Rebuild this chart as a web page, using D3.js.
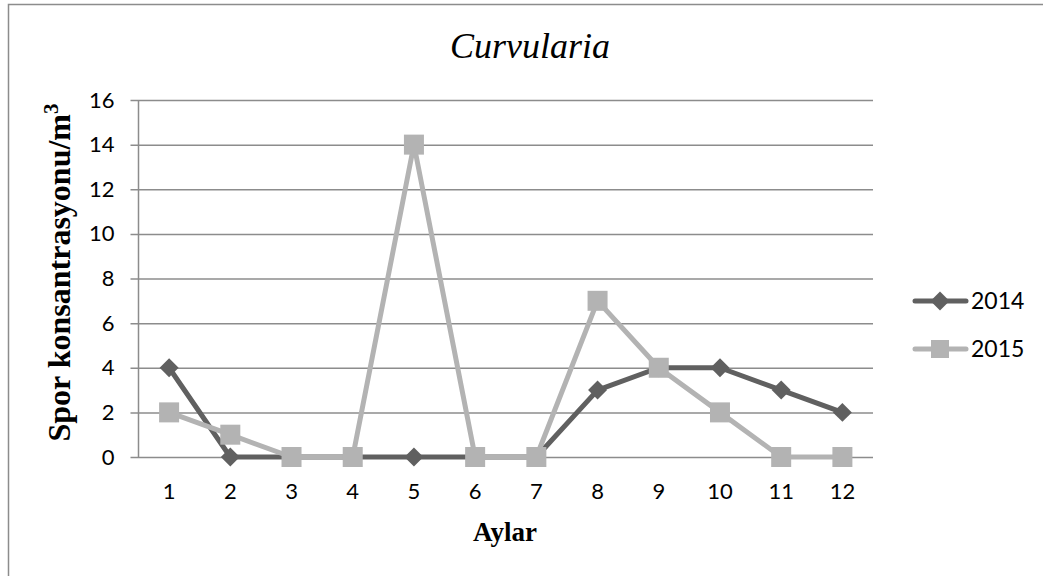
<!DOCTYPE html>
<html>
<head>
<meta charset="utf-8">
<script src="https://cdn.jsdelivr.net/npm/d3@7"></script>
<style>
  html, body { margin: 0; padding: 0; background: #fff; }
  svg { display: block; }
</style>
</head>
<body>
<svg id="chart" width="1043" height="576"></svg>
<script>
// Monthly spore counts of Curvularia
const months = [1, 2, 3, 4, 5, 6, 7, 8, 9, 10, 11, 12];
const values2014 = [4, 0, 0, 0, 0, 0, 0, 3, 4, 4, 3, 2];
const values2015 = [2, 1, 0, 0, 14, 0, 0, 7, 4, 2, 0, 0];
const yTicks = [0, 2, 4, 6, 8, 10, 12, 14, 16];
const seriesNames = ["2014", "2015"];

const svg = d3.select("#chart");
const W = 1043, H = 576;

const tickFont = "Lato, 'Open Sans', sans-serif";
const serif = "'Liberation Serif', 'Times New Roman', serif";
const gridColor = "#8c8c8c";
const colors = { "2014": "#606060", "2015": "#b3b3b3" };

// Chart frame (only left and top edges fall inside the view)
svg.append("rect")
  .attr("x", 8.5).attr("y", 4.5)
  .attr("width", W + 20).attr("height", H + 20)
  .attr("fill", "none").attr("stroke", gridColor).attr("stroke-width", 1.5);

const plot = { left: 138.5, right: 873, top: 100, bottom: 457 };

const x = d3.scaleBand().domain(months).range([plot.left, plot.right]);
const y = d3.scaleLinear().domain([0, 16]).range([plot.bottom, plot.top]);
const cx = m => x(m) + x.bandwidth() / 2;

// Horizontal gridlines with left tick stubs
const yAxis = d3.axisLeft(y).tickValues(yTicks)
  .tickSize(-(plot.right - plot.left)).tickPadding(24).tickFormat(d3.format("d"));
const gy = svg.append("g").attr("transform", `translate(${plot.left},0)`).call(yAxis);
gy.select(".domain").remove();
gy.selectAll(".tick line")
  .attr("x1", -8)
  .attr("stroke", gridColor).attr("stroke-width", 1.5);
gy.selectAll(".tick text")
  .attr("fill", "#000").style("font-family", tickFont).style("font-size", "22px");

// Vertical axis line
svg.append("line")
  .attr("x1", plot.left).attr("x2", plot.left)
  .attr("y1", plot.top).attr("y2", plot.bottom)
  .attr("stroke", gridColor).attr("stroke-width", 1.5);

// Category labels along the bottom
const xAxis = d3.axisBottom(x).tickSize(0).tickPadding(26);
const gx = svg.append("g").attr("transform", `translate(0,${plot.bottom})`).call(xAxis);
gx.select(".domain").remove();
gx.selectAll(".tick text")
  .attr("fill", "#000").style("font-family", tickFont).style("font-size", "22px");

// Series lines and markers
const line = d3.line().x((d, i) => cx(months[i])).y(d => y(d));
const diamond = d3.symbol().type(d3.symbolDiamond2).size(230);

function drawSeries(vals, name) {
  const g = svg.append("g");
  g.append("path").datum(vals)
    .attr("d", line).attr("fill", "none")
    .attr("stroke", colors[name]).attr("stroke-width", 5)
    .attr("stroke-linejoin", "round");
  if (name === "2014") {
    g.selectAll("path.m").data(vals).join("path").attr("class", "m")
      .attr("d", diamond)
      .attr("transform", (d, i) => `translate(${cx(months[i])},${y(d)})`)
      .attr("fill", colors[name]);
  } else {
    const s = 20;
    g.selectAll("rect").data(vals).join("rect")
      .attr("x", (d, i) => cx(months[i]) - s / 2)
      .attr("y", d => y(d) - s / 2)
      .attr("width", s).attr("height", s)
      .attr("fill", colors[name]);
  }
}
drawSeries(values2014, "2014");
drawSeries(values2015, "2015");

// Title
svg.append("text")
  .attr("x", 530).attr("y", 58)
  .attr("text-anchor", "middle")
  .style("font-family", serif).style("font-style", "italic").style("font-size", "36px")
  .text("Curvularia");

// Axis titles
const yLab = svg.append("text")
  .attr("transform", `translate(70,${(plot.top + plot.bottom) / 2 - 6}) rotate(-90)`)
  .attr("text-anchor", "middle")
  .style("font-family", serif).style("font-weight", "bold").style("font-size", "32px");
yLab.append("tspan").text("Spor konsantrasyonu/m");
yLab.append("tspan").attr("dy", -12).style("font-size", "21px").text("3");

svg.append("text")
  .attr("x", 505).attr("y", 541)
  .attr("text-anchor", "middle")
  .style("font-family", serif).style("font-weight", "bold").style("font-size", "27px")
  .text("Aylar");

// Legend
const legend = svg.append("g");
seriesNames.forEach((name, i) => {
  const ly = 301 + i * 48;
  const g = legend.append("g");
  g.append("line")
    .attr("x1", 915).attr("x2", 966).attr("y1", ly).attr("y2", ly)
    .attr("stroke", colors[name]).attr("stroke-width", 5).attr("stroke-linecap", "round");
  if (name === "2014") {
    g.append("path").attr("d", diamond).attr("transform", `translate(940,${ly})`).attr("fill", colors[name]);
  } else {
    g.append("rect").attr("x", 931).attr("y", ly - 9).attr("width", 18).attr("height", 18).attr("fill", colors[name]);
  }
  g.append("text")
    .attr("x", 971).attr("y", ly).attr("dy", "0.35em")
    .style("font-family", tickFont).style("font-size", "23px")
    .text(name);
});
</script>
</body>
</html>
